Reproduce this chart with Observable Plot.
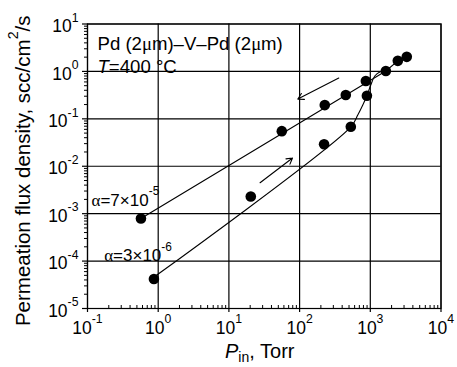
<!DOCTYPE html>
<html><head><meta charset="utf-8">
<script src="https://cdn.jsdelivr.net/npm/d3@7"></script>
<script src="https://cdn.jsdelivr.net/npm/@observablehq/plot@0.6"></script>
<style>body{margin:0;background:#fff}</style>
</head><body><div id="chart"></div>
<script>
// ---- data ----
// decreasing-pressure run (upper branch, alpha = 7e-5)
const downPressure = [3280, 2450, 1660, 865, 450, 227, 56, 0.57];
const downFlux     = [2.03, 1.67, 1.02, 0.63, 0.318, 0.195, 0.055, 7.9e-4];
// increasing-pressure run (lower branch, alpha = 3e-6)
const upPressure = [0.87, 20.4, 222, 530, 895];
const upFlux     = [4.2e-5, 2.3e-3, 0.029, 0.068, 0.307];
// guide curves
const upperFitPressure = [0.57, 1660, 2450, 3280];
const upperFitFlux     = [7.9e-4, 1.02, 1.67, 2.03];
const lowerFitPressure = [0.925, 530, 665, 783, 891, 1016, 1158, 1362, 1660];
const lowerFitFlux     = [4.89e-5, 0.0677, 0.12, 0.195, 0.303, 0.518, 0.80, 0.977, 1.02];
// direction arrows
const arrowFromP = [358, 27.6], arrowFromF = [0.728, 4.5e-3];
const arrowToP   = [94.4, 79.4], arrowToF  = [0.261, 0.0149];
// tick exponents
const xExponents = [-1, 0, 1, 2, 3, 4];
const yExponents = [-5, -4, -3, -2, -1, 0, 1];

// ---- tables ----
const zipPF = (P, F) => P.map((p, i) => ({p, f: F[i]}));
const downPts = zipPF(downPressure, downFlux);
const upPts = zipPF(upPressure, upFlux);
const upperFit = zipPF(upperFitPressure, upperFitFlux);
const lowerFit = zipPF(lowerFitPressure, lowerFitFlux);
const arrows = arrowFromP.map((_, i) => ({x1: arrowFromP[i], y1: arrowFromF[i], x2: arrowToP[i], y2: arrowToF[i]}));
const majorX = xExponents.map(e => 10 ** e);
const majorY = yExponents.map(e => 10 ** e);
const minorX = xExponents.slice(0, -1).flatMap(e => [2,3,4,5,6,7,8,9].map(m => m * 10 ** e));
const minorY = yExponents.slice(0, -1).flatMap(e => [2,3,4,5,6,7,8,9].map(m => m * 10 ** e));
const fmt = d => `10^{${Math.round(Math.log10(d))}}`;

const boxedNotes = [
  {x: 0.1385, y: 2.85, text: "Pd (2μm)–V–Pd (2μm)"},
  {x: 0.1385, y: 0.916, text: "*T*=400 °C"}
];
const alphaNotes = [
  {x: 0.114, y: 1.486e-3, text: "α=7×10^{-5}"},
  {x: 0.172, y: 1.01e-4, text: "α=3×10^{-6}"}
];

const W = 457, H = 367, mL = 87, mR = 16.5, mT = 23.5, mB = 59;
const innerW = W - mL - mR, innerH = H - mT - mB;
const SANS = "'Liberation Sans', Arial, Helvetica, sans-serif";
const SERIF = "'Liberation Serif', 'Times New Roman', serif";

const svg = Plot.plot({
  width: W, height: H,
  marginLeft: mL, marginRight: mR, marginTop: mT, marginBottom: mB,
  x: {type: "log", domain: [0.1, 1e4], label: null},
  y: {type: "log", domain: [1e-5, 10], label: null},
  style: {fontFamily: SANS, fontSize: "17px", background: "white", color: "black"},
  marks: [
    Plot.gridX({ticks: majorX, stroke: "#000", strokeOpacity: 1, strokeWidth: 1.2}),
    Plot.gridY({ticks: majorY, stroke: "#000", strokeOpacity: 1, strokeWidth: 1.2}),
    Plot.ruleX(minorX, {x: d => d, insetTop: innerH - 3, stroke: "#000"}),
    Plot.ruleY(minorY, {y: d => d, insetLeft: -3, insetRight: innerW, stroke: "#000"}),
    Plot.axisX({ticks: majorX, tickSize: 4, tickPadding: 9, tickFormat: fmt, fontSize: 17.5, label: null, strokeWidth: 1.2}),
    Plot.axisY({ticks: majorY, tickSize: 5, tickPadding: 4, tickFormat: fmt, fontSize: 17.5, label: null, strokeWidth: 1.2}),
    Plot.line(upperFit, {x: "p", y: "f", stroke: "black", strokeWidth: 1.1}),
    Plot.line(lowerFit, {x: "p", y: "f", stroke: "black", strokeWidth: 1.1, curve: "catmull-rom"}),
    Plot.arrow(arrows, {x1: "x1", y1: "y1", x2: "x2", y2: "y2", stroke: "black", strokeWidth: 1.1, headLength: 9}),
    Plot.dot(downPts, {x: "p", y: "f", r: 5.3, fill: "black", stroke: "none"}),
    Plot.dot(upPts, {x: "p", y: "f", r: 5.3, fill: "black", stroke: "none"}),
    Plot.text(boxedNotes, {x: "x", y: "y", text: "text", textAnchor: "start", lineAnchor: "bottom", fontSize: 18.6, fill: "black", ariaLabel: "boxed note"}),
    Plot.text(alphaNotes, {x: "x", y: "y", text: "text", textAnchor: "start", lineAnchor: "bottom", fontSize: 17, fill: "black"}),
    Plot.frame({stroke: "black", strokeWidth: 1.2})
  ]
});
document.getElementById("chart").appendChild(svg);

const sel = d3.select(svg);
const xr = [mL, W - mR], yr = [mT, H - mB];
sel.append("text")
  .attr("transform", `translate(30,${(yr[0] + yr[1]) / 2 + 5}) rotate(-90)`)
  .attr("text-anchor", "middle").attr("font-size", 20.5).attr("fill", "black")
  .text("Permeation flux density, scc/cm^{2}/s");
sel.append("text")
  .attr("x", (xr[0] + xr[1]) / 2 - 4).attr("y", 358)
  .attr("text-anchor", "middle").attr("font-size", 20).attr("fill", "black")
  .attr("data-sub", "0.22")
  .text("*P*_{in}, Torr");

sel.selectAll('g[aria-label="y-axis tick label"] text').attr("y", "0.47em");

const NS = "http://www.w3.org/2000/svg";
function richify(el) {
  if (el.querySelector("tspan")) return;
  const s = el.textContent;
  if (!/[\^_*αμ]/.test(s)) return;
  const fs = parseFloat(getComputedStyle(el).fontSize) || 16;
  const subShift = +(el.getAttribute("data-sub") || 0.3);
  const re = /\^\{([^}]*)\}|_\{([^}]*)\}|\*([^*]*)\*|([αμ])|([^\^_*αμ]+)/g;
  el.textContent = "";
  let off = 0, m;
  while ((m = re.exec(s))) {
    let txt, target = 0, size = null, italic = false, serif = false;
    if (m[1] != null) { txt = m[1]; target = -0.6 * fs; size = 0.7 * fs; }
    else if (m[2] != null) { txt = m[2]; target = subShift * fs; size = 0.7 * fs; }
    else if (m[3] != null) { txt = m[3]; italic = true; }
    else if (m[4] != null) { txt = m[4]; serif = true; }
    else txt = m[5];
    const t = document.createElementNS(NS, "tspan");
    if (target !== off) { t.setAttribute("dy", target - off); off = target; }
    if (size) t.setAttribute("font-size", size);
    if (italic) t.setAttribute("font-style", "italic");
    if (serif) t.setAttribute("font-family", SERIF);
    t.textContent = txt;
    el.appendChild(t);
  }
}
sel.selectAll("text").each(function() { richify(this); });

sel.selectAll('g[aria-label="boxed note"] text').each(function() {
  const b = this.getBBox();
  const r = document.createElementNS(NS, "rect");
  r.setAttribute("x", b.x - 2); r.setAttribute("y", b.y);
  r.setAttribute("width", b.width + 4); r.setAttribute("height", b.height);
  r.setAttribute("fill", "white");
  const tr = this.getAttribute("transform");
  if (tr) r.setAttribute("transform", tr);
  this.parentNode.insertBefore(r, this);
});
</script></body></html>
